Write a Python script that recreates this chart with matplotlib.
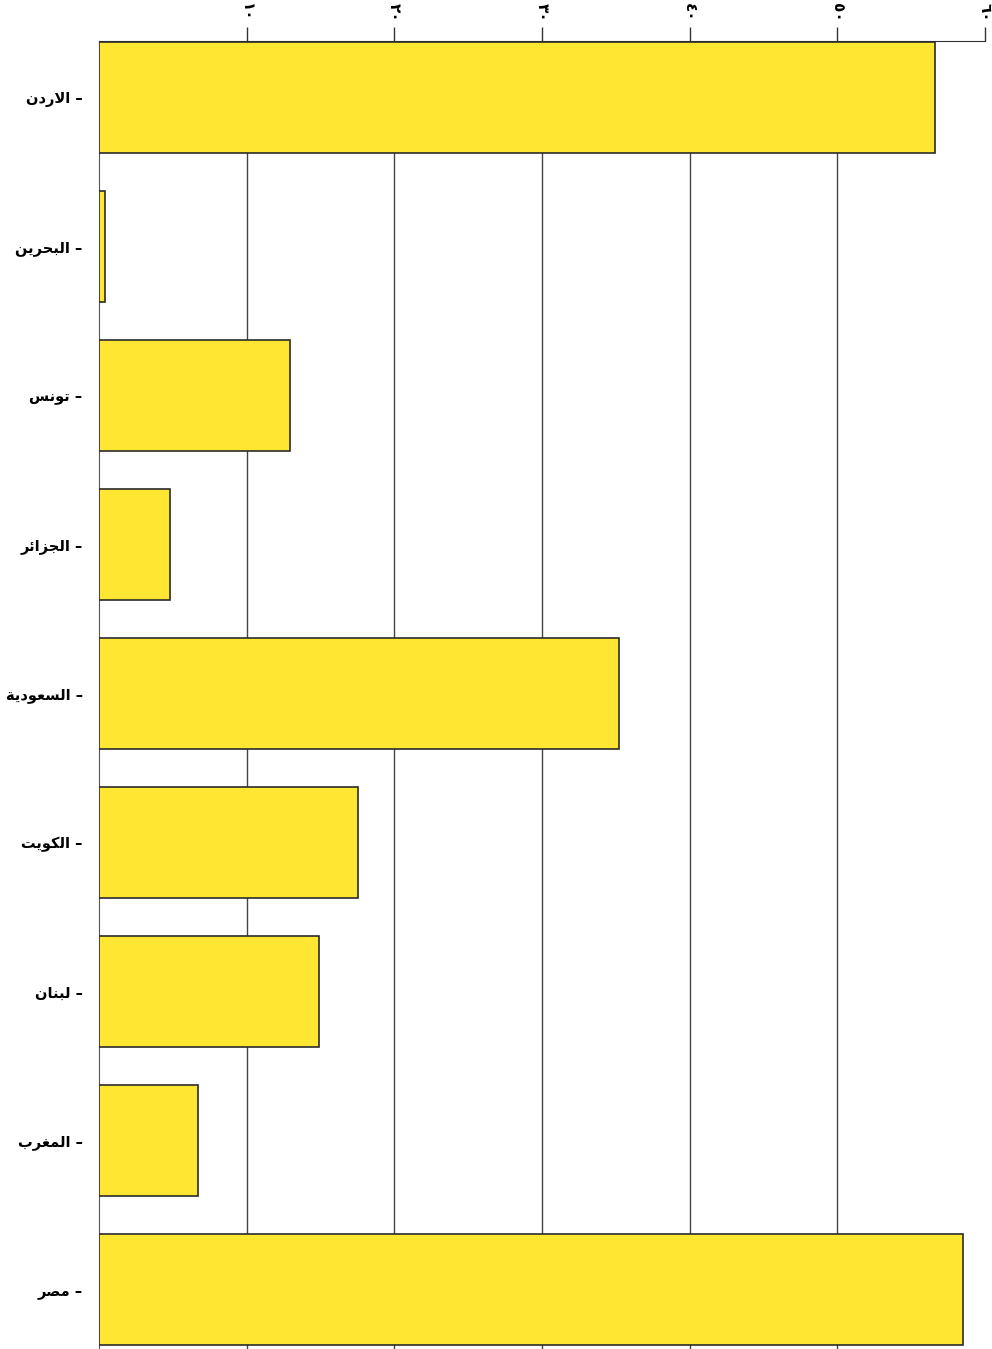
import matplotlib
matplotlib.use('Agg')
import matplotlib.pyplot as plt
import numpy as np

countries = ['الاردن', 'البحرين', 'تونس', 'الجزائر', 'السعودية',
             'الكويت', 'لبنان', 'المغرب', 'مصر']
values = [56.6, 0.4, 12.9, 4.8, 35.2, 17.5, 14.9, 6.7, 58.5]
ticks = [10, 20, 30, 40, 50, 60]

# presentation forms: isolated, final, initial, medial
FORMS = {
    'ا': ('\ufe8d', '\ufe8e', None, None),
    'ب': ('\ufe8f', '\ufe90', '\ufe91', '\ufe92'),
    'ة': ('\ufe93', '\ufe94', None, None),
    'ت': ('\ufe95', '\ufe96', '\ufe97', '\ufe98'),
    'ج': ('\ufe9d', '\ufe9e', '\ufe9f', '\ufea0'),
    'ح': ('\ufea1', '\ufea2', '\ufea3', '\ufea4'),
    'د': ('\ufea9', '\ufeaa', None, None),
    'ر': ('\ufead', '\ufeae', None, None),
    'ز': ('\ufeaf', '\ufeb0', None, None),
    'س': ('\ufeb1', '\ufeb2', '\ufeb3', '\ufeb4'),
    'ص': ('\ufeb9', '\ufeba', '\ufebb', '\ufebc'),
    'ع': ('\ufec9', '\ufeca', '\ufecb', '\ufecc'),
    'غ': ('\ufecd', '\ufece', '\ufecf', '\ufed0'),
    'ك': ('\ufed9', '\ufeda', '\ufedb', '\ufedc'),
    'ل': ('\ufedd', '\ufede', '\ufedf', '\ufee0'),
    'م': ('\ufee1', '\ufee2', '\ufee3', '\ufee4'),
    'ن': ('\ufee5', '\ufee6', '\ufee7', '\ufee8'),
    'و': ('\ufeed', '\ufeee', None, None),
    'ي': ('\ufef1', '\ufef2', '\ufef3', '\ufef4'),
    'ئ': ('\ufe89', '\ufe8a', '\ufe8b', '\ufe8c'),
}


def shape(word):
    out = []
    i = 0
    n = len(word)
    while i < n:
        c = word[i]
        prev = word[i - 1] if i > 0 else None
        jp = prev is not None and prev in FORMS and FORMS[prev][2] is not None
        if c == 'ل' and i + 1 < n and word[i + 1] == 'ا':
            out.append('\ufefc' if jp else '\ufefb')
            i += 2
            continue
        f = FORMS[c]
        nxt = word[i + 1] if i + 1 < n else None
        jn = f[2] is not None and nxt is not None and nxt in FORMS
        if jp and jn:
            out.append(f[3])
        elif jp:
            out.append(f[1])
        elif jn:
            out.append(f[2])
        else:
            out.append(f[0])
        i += 1
    return ''.join(reversed(out))


def arabic_digits(v):
    return ''.join(chr(0x660 + int(d)) for d in str(v))


fig = plt.figure(figsize=(9.92, 13.49), dpi=100)
ax = fig.add_axes([0.1, 0.0, 0.893, 0.9696])

y = np.arange(len(countries))
ax.barh(y, values, height=0.75, color='#ffe633', edgecolor='#2b2b2b',
        linewidth=1.2, zorder=3)

ax.set_xlim(0, 60)
ax.set_ylim(len(countries) - 0.6, -0.38)
for t in ticks[:-1]:
    ax.axvline(t, color='#444444', linewidth=1.0, zorder=1)

ax.xaxis.tick_top()
ax.set_xticks(ticks)
ax.set_xticklabels([arabic_digits(t) for t in ticks], rotation=-90,
                   fontsize=11, fontweight='bold')
ax.tick_params(axis='x', length=10, width=1, color='#333333', pad=4)

ax.set_yticks(y)
ax.set_yticklabels([shape(c) + ' –' for c in countries], fontsize=10.5,
                   fontweight='bold')
ax.tick_params(axis='y', length=0, pad=12)

ax.spines['right'].set_visible(False)
ax.spines['bottom'].set_visible(False)
ax.spines['top'].set_color('#333333')
ax.spines['left'].set_color('#555555')
ax.spines['left'].set_linewidth(0.8)

fig.savefig('out.png', dpi=100)
